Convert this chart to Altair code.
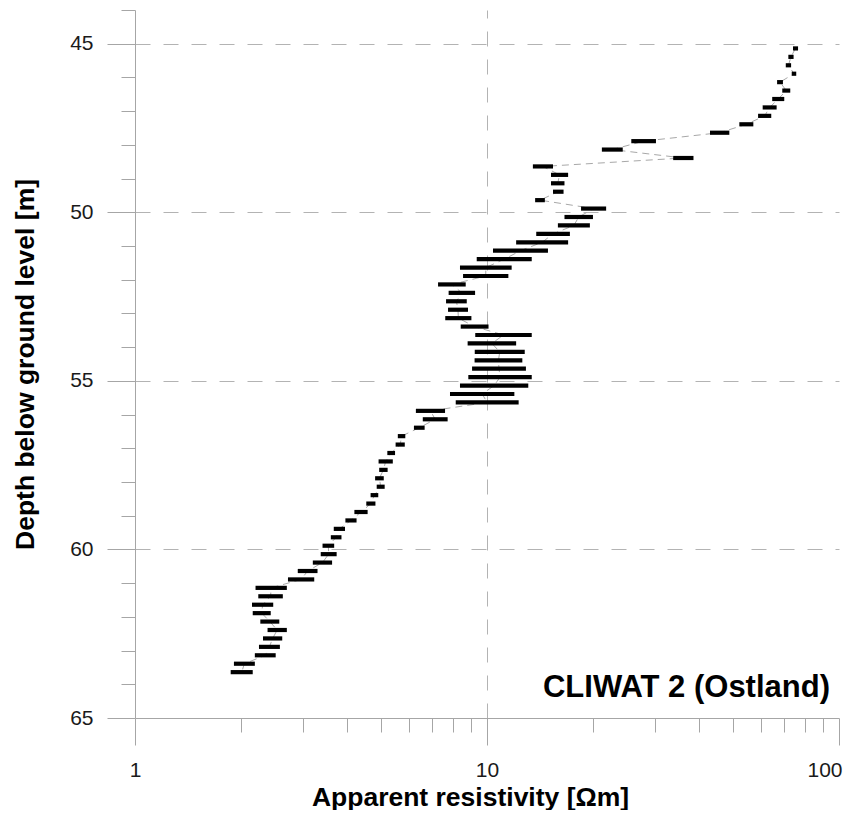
import math
import altair as alt
import pandas as pd

# depth of each measurement [m below ground level]
depth = [45.14, 45.39, 45.64, 45.89, 46.14, 46.39, 46.64, 46.89, 47.14, 47.39,
         47.64, 47.89, 48.14, 48.39, 48.64, 48.89, 49.14, 49.39, 49.64, 49.89,
         50.14, 50.39, 50.64, 50.89, 51.14, 51.39, 51.64, 51.89, 52.14, 52.39,
         52.64, 52.89, 53.14, 53.39, 53.64, 53.89, 54.14, 54.39, 54.64, 54.89,
         55.14, 55.39, 55.64, 55.89, 56.14, 56.39, 56.64, 56.89, 57.14, 57.39,
         57.64, 57.89, 58.14, 58.39, 58.64, 58.89, 59.14, 59.39, 59.64, 59.89,
         60.14, 60.39, 60.64, 60.89, 61.14, 61.39, 61.64, 61.89, 62.14, 62.39,
         62.64, 62.89, 63.14, 63.39, 63.64]

# lower end of each resistivity bar [Ohm m]
rho_min = [74.0, 71.8, 70.6, 73.4, 66.7, 69.0, 64.6, 60.7, 58.9, 52.1,
           43.0, 25.7, 21.2, 33.8, 13.5, 15.2, 15.2, 15.4, 13.7, 18.5,
           16.6, 15.9, 13.8, 12.1, 10.4, 9.35, 8.38, 8.55, 7.26, 7.78,
           7.65, 7.75, 7.61, 8.42, 9.26, 8.81, 9.23, 9.22, 9.07, 8.85,
           8.38, 7.85, 8.15, 6.28, 6.57, 6.20, 5.58, 5.50, 5.21, 4.92,
           4.94, 4.81, 4.86, 4.67, 4.54, 4.20, 3.96, 3.67, 3.60, 3.41,
           3.37, 3.20, 2.90, 2.72, 2.20, 2.24, 2.15, 2.16, 2.27, 2.38,
           2.31, 2.25, 2.19, 1.91, 1.87]

# upper end of each resistivity bar [Ohm m]
rho_max = [76.5, 74.3, 73.1, 75.6, 69.3, 72.7, 69.9, 66.5, 64.2, 57.1,
           48.8, 30.2, 24.3, 38.6, 15.4, 17.0, 16.6, 16.5, 14.6, 21.8,
           20.0, 19.6, 17.2, 17.0, 14.9, 13.4, 11.75, 11.5, 8.70, 9.25,
           8.76, 8.83, 9.03, 10.1, 13.4, 12.1, 12.8, 12.6, 12.9, 13.4,
           13.1, 11.96, 12.3, 7.60, 7.73, 6.65, 5.86, 5.84, 5.48, 5.40,
           5.22, 5.09, 5.12, 4.91, 4.82, 4.58, 4.26, 3.95, 3.86, 3.68,
           3.74, 3.63, 3.30, 3.23, 2.70, 2.63, 2.47, 2.43, 2.57, 2.70,
           2.62, 2.58, 2.51, 2.19, 2.16]

rho_mid = [math.sqrt(a * b) for a, b in zip(rho_min, rho_max)]

x_tick_values = [1, 2, 3, 4, 5, 6, 7, 8, 9, 10, 20, 30, 40, 50, 60, 70, 80, 90, 100]
y_tick_values = list(range(44, 66))

station_label = ["CLIWAT 2 (Ostland)"]

df = pd.DataFrame({"depth": depth, "lo": rho_min, "hi": rho_max, "mid": rho_mid})

FONT = "Liberation Sans"
AXIS_GRAY = "#a6a6a6"

xscale = alt.Scale(type="log", domain=[1, 100], nice=False)
yscale = alt.Scale(domain=[44, 65], reverse=True, nice=False, zero=False)

x_axis = alt.Axis(
    values=x_tick_values,
    title="Apparent resistivity [Ωm]",
    labelExpr="(datum.value == 1 || datum.value == 10 || datum.value == 100) ? datum.label : ''",
    labelFont=FONT, labelFontSize=21, labelColor="#1a1a1a",
    labelPadding=14, labelFlush=False, labelOverlap=False,
    labelAlign={"condition": {"test": "datum.value == 100", "value": "right"}, "value": "center"},
    labelOffset={"condition": {"test": "datum.value == 100", "value": 3}, "value": 0},
    tickSize={"expr": "(datum.value == 1 || datum.value == 10 || datum.value == 100) ? 27 : 14"},
    tickColor=AXIS_GRAY, tickWidth=1,
    domainColor=AXIS_GRAY, domainWidth=1,
    grid=True,
    gridColor="#b3b3b3", gridWidth=1, gridDash=[15, 13],
    gridOpacity={"condition": {"test": "datum.value == 10", "value": 1}, "value": 0},
    titleFont=FONT, titleFontSize=26.5, titleFontWeight="bold", titleColor="#000000",
    titleX=335, titleY=87, titleBaseline="alphabetic", titleAlign="center",
)

y_axis = alt.Axis(
    values=y_tick_values,
    tickCount=22,
    title="Depth below ground level [m]",
    labelExpr="(datum.value % 5 == 0) ? datum.label : ''",
    labelFont=FONT, labelFontSize=21, labelColor="#1a1a1a",
    labelPadding=14, labelFlush=False, labelOverlap=False,
    tickSize={"expr": "(datum.value % 5 == 0) ? 28 : 14"},
    tickColor=AXIS_GRAY, tickWidth=1,
    domainColor=AXIS_GRAY, domainWidth=1,
    grid=True,
    gridColor="#b3b3b3", gridWidth=1, gridDash=[15, 13],
    gridOpacity={"condition": {"test": "datum.value % 5 == 0 && datum.value < 65", "value": 1}, "value": 0},
    titleFont=FONT, titleFontSize=26.5, titleFontWeight="bold", titleColor="#000000",
    titleX=-102, titleY=354, titleBaseline="alphabetic", titleAlign="center", titleAngle=270,
)

base = alt.Chart(df)

line = base.mark_line(color="#a8a8a8", strokeWidth=1, strokeDash=[7, 5]).encode(
    x=alt.X("mid:Q", scale=xscale, axis=x_axis),
    y=alt.Y("depth:Q", scale=yscale, axis=y_axis),
    order=alt.Order("depth:Q"),
)

bars = base.mark_rule(color="#000000", strokeWidth=4.2).encode(
    x=alt.X("lo:Q", scale=xscale, axis=x_axis),
    x2="hi:Q",
    y=alt.Y("depth:Q", scale=yscale, axis=y_axis),
)

label = alt.Chart(pd.DataFrame({"text": station_label})).mark_text(
    font=FONT, fontSize=31, fontWeight="bold", color="#000000",
    align="right", baseline="alphabetic",
).encode(
    x=alt.value(695),
    y=alt.value(687),
    text="text:N",
)

chart = alt.layer(line, bars, label).properties(
    width=704,
    height=708,
    autosize=alt.AutoSizeParams(type="none"),
    padding={"left": 127, "top": 2, "right": 15, "bottom": 92},
    background="#ffffff",
).configure_view(stroke=None)

chart.save("out.html", embed_options={"renderer": "svg", "actions": False})
